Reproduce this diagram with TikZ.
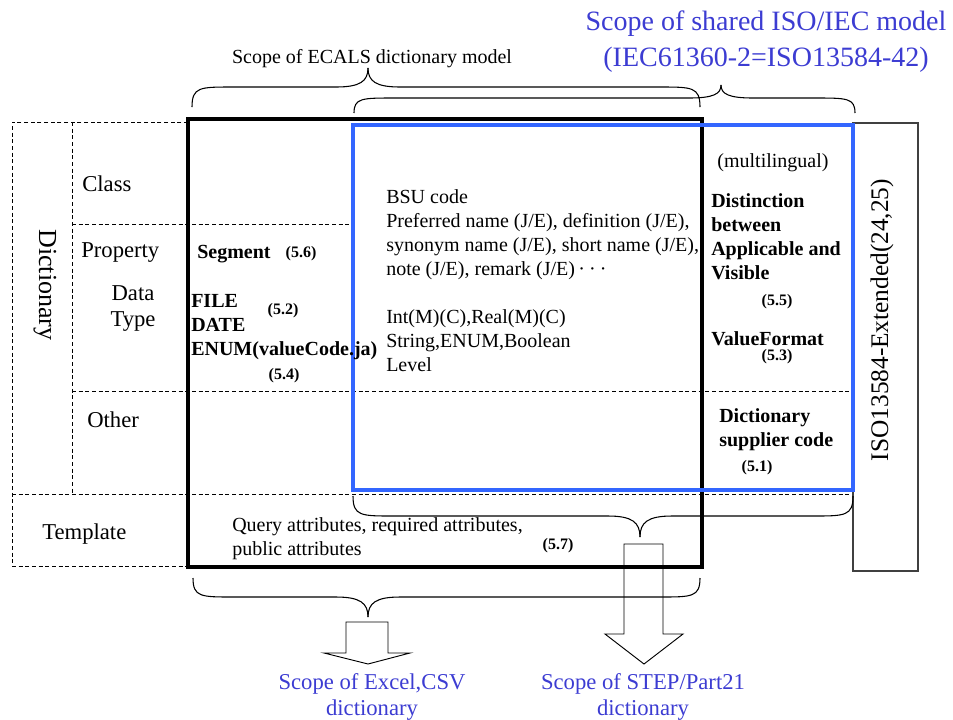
\documentclass[tikz,border=0pt]{standalone}
\usepackage{fontspec}
\setmainfont{Liberation Serif}
\definecolor{scopeblue}{RGB}{51,102,255}
\definecolor{labelblue}{RGB}{60,60,210}
\tikzset{
  grid line/.style={dash pattern=on 3pt off 2pt, line width=0.6pt},
  brace line/.style={line width=0.8pt},
  body/.style={inner sep=0pt, align=left, font=\fontsize{15}{18}\selectfont},
  row label/.style={inner sep=0pt, align=center, font=\fontsize{17}{20}\selectfont},
  key/.style={inner sep=0pt, align=left, font=\fontsize{15}{18}\selectfont\bfseries},
  secno/.style={inner sep=0pt, font=\fontsize{12}{14}\selectfont\bfseries},
  scope label/.style={inner sep=0pt, align=center, text=labelblue},
  block arrow/.style={line width=0.7pt},
}
% brace: x1, x2, tip x, end y, level y, tip y
\newcommand{\scopebrace}[6]{%
  \draw[brace line] (#1,#4) .. controls (#1,#5) and (#1+8,#5) .. (#1+40,#5)
    -- (#3-32,#5) .. controls (#3-8,#5) and (#3,#5*0.7+#6*0.3) .. (#3,#6);
  \draw[brace line] (#2,#4) .. controls (#2,#5) and (#2-8,#5) .. (#2-40,#5)
    -- (#3+32,#5) .. controls (#3+8,#5) and (#3,#5*0.7+#6*0.3) .. (#3,#6);
}
\begin{document}
\begin{tikzpicture}[x=0.75pt,y=-0.75pt]
    \useasboundingbox (0,0) rectangle (953,719);
    % table grid
    \draw[grid line] (188,122)--(12,122)--(12,566)--(188,566);
    \draw[grid line] (72,122)--(72,494);
    \draw[grid line] (72,224)--(353,224);
    \draw[grid line] (72,391)--(853,391);
    \draw[grid line] (12,494)--(853,494);
    % scopes
    \draw[black!75,line width=0.8pt] (853,123) rectangle (918,571);
    \draw[line width=3pt] (188,119) rectangle (702,567);
    \draw[scopeblue,line width=2.6pt] (353,125) rectangle (853,490);
    \scopebrace{192}{700}{368}{107}{87}{68}
    \scopebrace{354}{855}{721}{113}{98}{85}
    \scopebrace{353}{853}{640}{496}{516}{537}
    \scopebrace{193}{700}{368}{578}{597}{617}
    \node[inner sep=0pt,font=\fontsize{15}{18}\selectfont] (ecals) at (372,59) {Scope of ECALS dictionary model};
    \node[scope label,font=\fontsize{21}{27}\selectfont] (shared) at (766,42) {Scope of shared ISO/IEC model\\(IEC61360-2=ISO13584-42)};
    % rows
    \node[inner sep=0pt,rotate=-90,font=\fontsize{19.5}{22}\selectfont] (dict) at (45,285) {Dictionary};
    \node[row label,anchor=west] (class) at (82,184) {Class};
    \node[row label,anchor=west] (prop) at (81,253) {Property};
    \node[row label] (dtype) at (133,308.5) {Data\\Type};
    \node[row label,anchor=west] (other) at (87,420) {Other};
    \node[row label,anchor=west] (tmpl) at (42,534) {Template};
    \node[inner sep=0pt,rotate=90,font=\fontsize{19}{22}\selectfont] (iso) at (882,320) {ISO13584-Extended(24,25)};
    % cells
    \node[key,anchor=west] (segment) at (197,254) {Segment};
    \node[key,anchor=west] (types) at (191,327) {FILE\\DATE\\ENUM(valueCode.ja)};
    \node[body,anchor=west] (bsu) at (386,281) {BSU code\\Preferred name (J/E), definition (J/E),\\synonym name (J/E), short name (J/E),\\note (J/E), remark (J/E)\,·\hspace{3pt}·\hspace{3pt}·\\[18pt]Int(M)(C),Real(M)(C)\\String,ENUM,Boolean\\Level};
    \node[body] (multi) at (773,163) {(multilingual)};
    \node[key,anchor=west] (applic) at (711,236.5) {Distinction\\between\\Applicable and\\Visible};
    \node[key,anchor=west] (vformat) at (711,339) {ValueFormat};
    \node[key,anchor=west] (supplier) at (719,429.5) {Dictionary\\supplier code};
    \node[body,anchor=west] (query) at (232,539) {Query attributes, required attributes,\\public attributes};
    \foreach \x/\y/\n in {757/468/1,283/311/2,777/357/3,284/376/4,777/302/5,301/254/6,558/546/7}{
      \node[secno] (sec\n) at (\x,\y) {(5.\n)};
    }
    % outputs
    \draw[block arrow] (346,622)--(388,622)--(388,653)--(410,653)--(368,664)--(324,653)--(346,653)--cycle;
    \draw[block arrow] (624,544)--(663,544)--(663,634)--(683,634)--(644,664)--(605,634)--(624,634)--cycle;
    \node[scope label,font=\fontsize{17}{19}\selectfont] (excel) at (372,697) {Scope of Excel,CSV\\dictionary};
    \node[scope label,font=\fontsize{17}{19}\selectfont] (step) at (643,697) {Scope of STEP/Part21\\dictionary};
\end{tikzpicture}
\end{document}
